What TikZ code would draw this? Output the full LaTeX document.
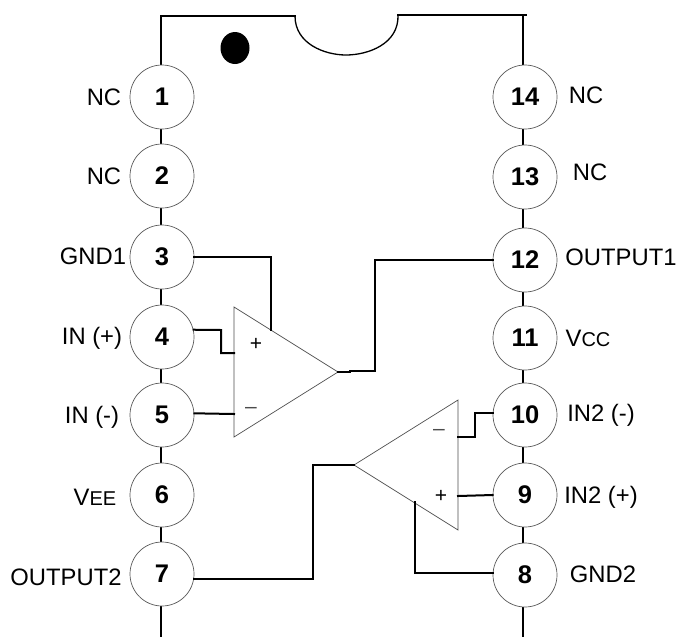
\documentclass[tikz,border=0pt]{standalone}
\usepackage{fontspec}
\setmainfont{Liberation Sans}
\usepackage{tikz}
\newcommand{\labelsize}{\fontsize{23.8}{27}\selectfont}
\newcommand{\smallsize}{\fontsize{20}{23}\selectfont}
\tikzset{
  pin/.style={
    circle,
    draw=black!65,
    line width=0.7pt,
    minimum size=64pt,
    inner sep=0pt,
    fill=white,
    font=\fontsize{25.5}{28}\selectfont\bfseries},
  wire/.style={
    line width=2pt,
    line cap=rect},
  amp/.style={
    draw=black!70,
    line width=0.7pt,
    line join=miter},
  pinlabel/.style={
    inner sep=0pt,
    font=\labelsize},
  sign/.style={
    inner sep=0pt,
    font=\fontsize{21}{24}\selectfont}
  }

\begin{document}
\begin{tikzpicture}[x=1pt,y=-1pt]
      \useasboundingbox (0,0) rectangle (676,637);
      % package outline
      \coordinate (tl) at (161,16);
      \coordinate (tr) at (523,15);
      \coordinate (nl) at (295,16);
      \coordinate (nr) at (398,15);
      \coordinate (bl) at (161,636);
      \coordinate (br) at (523,636);
      \draw [wire] (nl) -- (tl) -- (161,70);
      \draw [wire] (nr) -- (526,15);
      \draw [wire] (tr) -- (523,70);
      \draw [line width=1.3pt] (nl) .. controls (295,44) and (325,55) .. (346,55) .. controls (368,55) and (399,44) .. (nr);
      \fill (235,48) ellipse [x radius=14.5, y radius=16];
      % pins left
      \draw [wire] (161,70) -- (bl);
      \draw [wire] (523,70) -- (br);
      \node [pin] (p1) at (162,97) {1};
      \node [pin] (p2) at (162,176) {2};
      \node [pin] (p3) at (162,257) {3};
      \node [pin] (p4) at (162,337) {4};
      \node [pin] (p5) at (162,415) {5};
      \node [pin] (p6) at (162,495) {6};
      \node [pin] (p7) at (162,574) {7};
      % pins right
      \node [pin] (p14) at (525,97) {14};
      \node [pin] (p13) at (525,177) {13};
      \node [pin] (p12) at (525,260) {12};
      \node [pin] (p11) at (525,338) {11};
      \node [pin] (p10) at (525,415) {10};
      \node [pin] (p9) at (525,495) {9};
      \node [pin] (p8) at (525,575) {8};
      % labels
      \node [pinlabel] (l1) at (104,97) {NC};
      \node [pinlabel] (l2) at (104,176) {NC};
      \node [pinlabel] (l3) at (93,256) {GND1};
      \node [pinlabel] (l4) at (92,338) {IN (+)};
      \node [pinlabel] (l5) at (92,417) {IN (-)};
      \node [pinlabel] (l6) at (95,497) {V{\smallsize EE}};
      \node [pinlabel] (l7) at (66,577) {OUTPUT2};
      \node [pinlabel] (l14) at (586,95) {NC};
      \node [pinlabel] (l13) at (590,172) {NC};
      \node [pinlabel] (l12) at (621,257) {OUTPUT1};
      \node [pinlabel] (l11) at (588,338) {V{\smallsize CC}};
      \node [pinlabel] (l10) at (601,415) {IN2 (-)};
      \node [pinlabel] (l9) at (601,497) {IN2 (+)};
      \node [pinlabel] (l8) at (603,574) {GND2};
      % upper amplifier
      \coordinate (ua) at (234,307);
      \coordinate (ub) at (234,437);
      \coordinate (uo) at (338,372);
      \draw [amp] (ua) -- (ub) -- (uo) -- cycle;
      \node [sign] (up) at (256,344) {+};
      \node [sign, text=black!70] (um) at (251,410) {--};
      \draw [wire] (p3.east) -| (271,330);
      \draw [wire] (p4.13) -- (221,330) |- (234,353);
      \draw [wire] (p5.3) -- (234,414);
      \draw [wire] (uo) -- (350,372) -- (350,371) -- (375,371) |- (p12.west);
      % lower amplifier
      \coordinate (la) at (458,400);
      \coordinate (lb) at (458,530);
      \coordinate (lo) at (354,465);
      \draw [amp] (la) -- (lb) -- (lo) -- cycle;
      \node [sign, text=black!70] (lm) at (439,432) {--};
      \node [sign] (lp) at (441,496) {+};
      \draw [wire] (lo) -- (313,465) |- (p7.-9);
      \draw [wire] (458,437) -- (475,437) |- (p10.177);
      \draw [wire] (458,496) -- (p9.west);
      \draw [wire] (415,502) |- (p8.176);
    \end{tikzpicture}
\end{document}
